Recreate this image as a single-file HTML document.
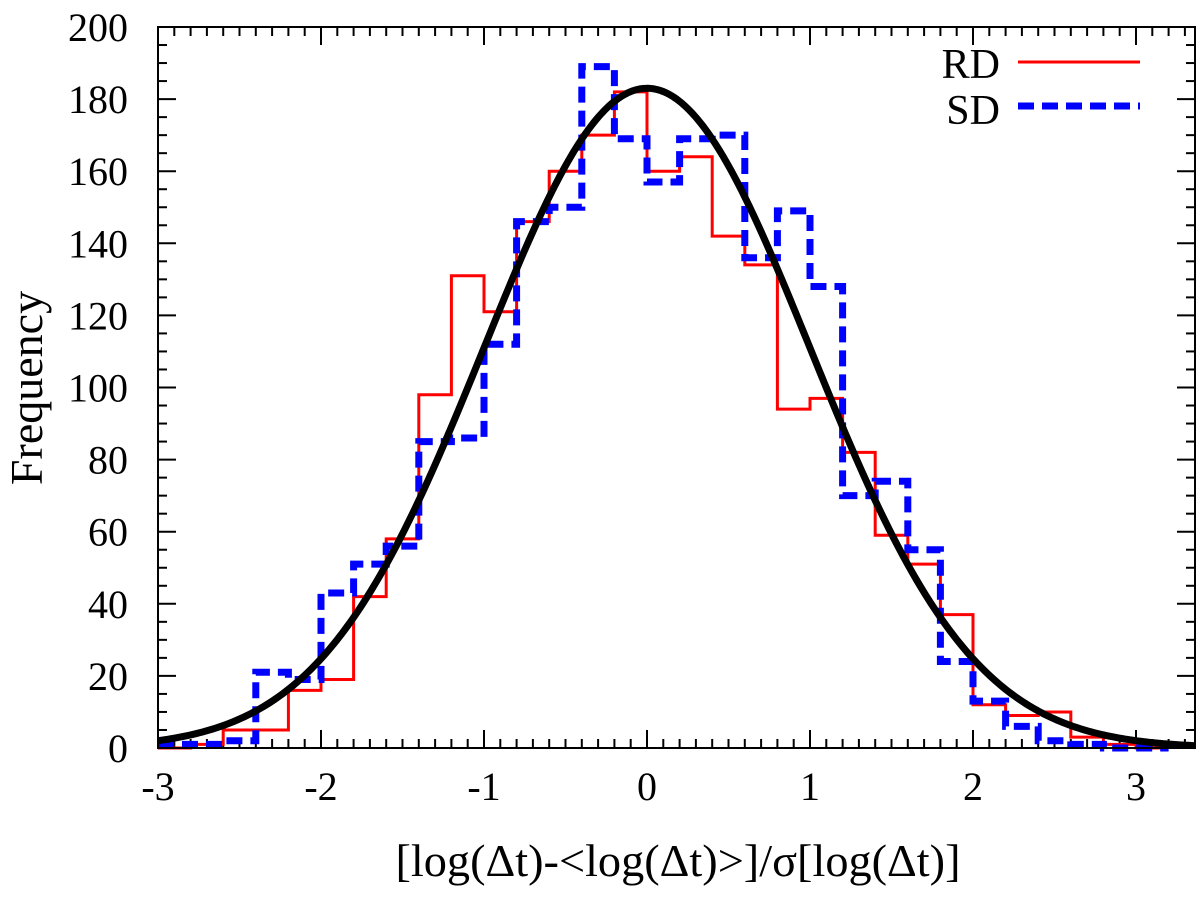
<!DOCTYPE html>
<html><head><meta charset="utf-8"><style>
html,body{margin:0;padding:0;background:#fff;}
svg text{font-family:"Liberation Serif",serif;fill:#000;}
</style></head><body>
<svg id="chart" width="1200" height="897" xmlns="http://www.w3.org/2000/svg">
<g id="axes"></g>
<g id="series"></g>
<rect x="158" y="27" width="1037" height="721" fill="none" stroke="#000" stroke-width="2"/>
<text x="0" y="0" font-size="46" text-anchor="middle" transform="translate(42,388) rotate(-90)">Frequency</text>
<text x="678" y="876" font-size="45" text-anchor="middle" textLength="565" lengthAdjust="spacingAndGlyphs">[log(Δt)-&lt;log(Δt)&gt;]/σ[log(Δt)]</text>
<g>
<text x="1000" y="78" font-size="42" text-anchor="end">RD</text>
<line x1="1018" y1="62" x2="1140" y2="62" stroke="#f00" stroke-width="3"/>
<text x="1000" y="124" font-size="42" text-anchor="end">SD</text>
<line x1="1018" y1="106" x2="1140" y2="106" stroke="#00f" stroke-width="7" stroke-dasharray="16,8"/>
</g>
</svg>
<script>
const binStart = -3.0;
const binWidth = 0.2;
const rdValues = [0,1,5,5,16,19,42,58,98,131,121,146,160,170,182,160,164,142,134,94,97,82,59,51,37,12,9,10,3,1,0];
const sdValues = [1,1,2,21,19,43,51,56,85,86,112,146,150,189,169,157,169,170,136,149,128,70,74,55,24,13,6,2,1,0,0];
const fitPeak = 183;
const fitMean = 0;
const fitSigma = 1;
const xTicks = [-3,-2,-1,0,1,2,3];
const yTicks = [0,20,40,60,80,100,120,140,160,180,200];

const NS='http://www.w3.org/2000/svg';
const L=158,R=1195,T=27,B=748;
const xMin=-3, xMax=3+(R-1136)/163;
const yMin=0,yMax=200;
function X(v){return L+(v-xMin)/(xMax-xMin)*(R-L);}
function Y(v){return B-(v-yMin)/(yMax-yMin)*(B-T);}
function mk(tag,attrs,parent){const e=document.createElementNS(NS,tag);for(const k in attrs)e.setAttribute(k,attrs[k]);parent.appendChild(e);return e;}
const axes=document.getElementById('axes');
const series=document.getElementById('series');

for(let v=-3;v<=xMax+1e-9;v+=0.1){
  const major=Math.abs(v-Math.round(v))<1e-6;
  const len=major?18:9;
  const t1=mk('line',{x1:X(v),y1:B,x2:X(v),y2:B-len,stroke:'#000','stroke-width':2},axes);
  
  
  const t2=mk('line',{x1:X(v),y1:T,x2:X(v),y2:T+len,stroke:'#000','stroke-width':2},axes);
  
  
}
xTicks.forEach(v=>{
  const t=mk('text',{x:X(v),y:800,'font-size':40,'text-anchor':'middle'},axes);
  t.textContent=String(v);
  
  
});
for(let v=0;v<=200;v+=5){
  const major=v%20===0;
  const len=major?18:9;
  const t1=mk('line',{x1:L,y1:Y(v),x2:L+len,y2:Y(v),stroke:'#000','stroke-width':2},axes);
  
  
  const t2=mk('line',{x1:R,y1:Y(v),x2:R-len,y2:Y(v),stroke:'#000','stroke-width':2},axes);
  
  
}
yTicks.forEach(v=>{
  const t=mk('text',{x:128,y:Y(v)+14,'font-size':40,'text-anchor':'end'},axes);
  t.textContent=String(v);
  
  
});

function stepPath(vals){
  let d='';
  vals.forEach((v,i)=>{
    const x0=X(binStart+i*binWidth), x1=X(binStart+(i+1)*binWidth);
    d+=(i===0?'M':'L')+x0+','+Y(v)+'L'+x1+','+Y(v);
  });
  return d;
}
const rd=mk('path',{d:stepPath(rdValues),fill:'none',stroke:'#f00','stroke-width':3},series);


const sd=mk('path',{d:stepPath(sdValues),fill:'none',stroke:'#00f','stroke-width':7,'stroke-dasharray':'16,8'},series);


let d='';
for(let i=0;i<=400;i++){
  const v=xMin+(xMax-xMin)*i/400;
  const f=fitPeak*Math.exp(-0.5*Math.pow((v-fitMean)/fitSigma,2));
  d+=(i?'L':'M')+X(v).toFixed(2)+','+Y(f).toFixed(2);
}
const fit=mk('path',{d:d,fill:'none',stroke:'#000','stroke-width':7},series);


</script>
</body></html>
